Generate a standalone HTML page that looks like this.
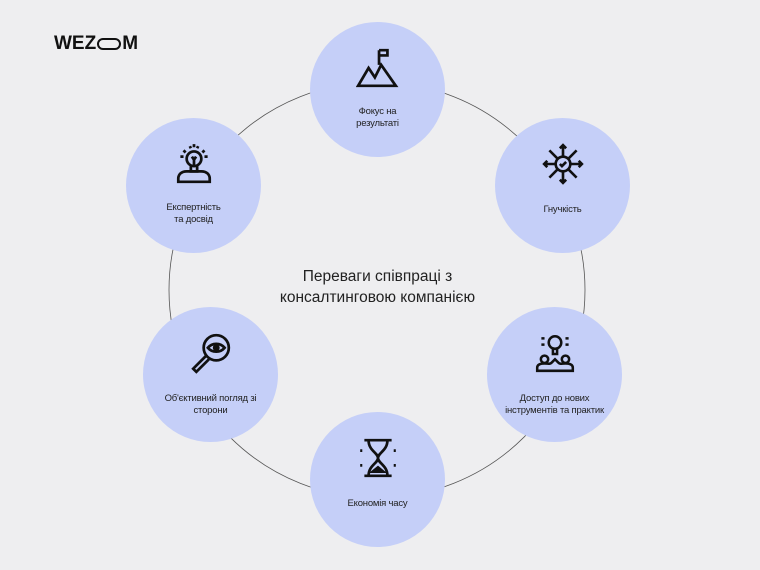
<!DOCTYPE html>
<html><head><meta charset="utf-8"><style>
body{margin:0;width:760px;height:570px;background:#eeeef0;overflow:hidden;font-family:"Liberation Sans",sans-serif;position:relative}
.n{position:absolute;width:135px;height:135px;border-radius:50%;background:#c5cff8}
.t{position:absolute;left:0;width:135px;text-align:center;font-size:9.5px;line-height:12px;color:#222;letter-spacing:-0.2px}
.i{position:absolute;left:46px;top:24px}
</style></head><body>
<div style="position:absolute;left:54px;top:33px;font-weight:bold;font-size:19px;letter-spacing:0px;color:#111">WEZ<span style="display:inline-block;width:24px;height:12px;border:2.6px solid #111;border-radius:7px;vertical-align:-1px;margin:0 1px;box-sizing:border-box"></span>M</div>
<svg style="position:absolute;left:0;top:0" width="760" height="570"><circle cx="377" cy="290" r="208" fill="none" stroke="#555" stroke-width="0.8"/></svg>
<div style="position:absolute;left:250px;top:266px;width:255px;text-align:center;font-size:15.5px;line-height:21px;color:#222">Переваги співпраці з<br>консалтинговою компанією</div>

<div class="n" style="left:310px;top:22px"><svg class="i" width="44" height="44" viewBox="0 0 42 42" fill="none" stroke="#111" stroke-width="2.6"><path d="M22 4v14M22 4h8v5h-8"/><path d="M2 38l10-17 6 9 6-12 14 20z"/></svg><div class="t" style="top:84px">Фокус на<br>результаті</div></div>

<div class="n" style="left:495px;top:118px"><svg class="i" width="44" height="44" viewBox="0 0 42 42" fill="none" stroke="#111" stroke-width="2.5"><circle cx="21" cy="21" r="7"/><path d="M18 21l2 2 4-4M21 14V3M21 28v11M14 21H3M28 21h11M16 16L8 8M26 16l8-8M16 26l-8 8M26 26l8 8M18 6l3-3 3 3M18 36l3 3 3-3M6 18l-3 3 3 3M36 18l3 3-3 3"/></svg><div class="t" style="top:86px">Гнучкість</div></div>

<div class="n" style="left:487px;top:307px"><svg class="i" width="44" height="44" viewBox="0 0 42 42" fill="none" stroke="#111" stroke-width="2.4"><circle cx="21" cy="11" r="6"/><path d="M19 17v5h4v-5M8 7h3M31 7h3M8 13h3M31 13h3"/><circle cx="11" cy="27" r="3.5"/><circle cx="31" cy="27" r="3.5"/><path d="M4 38v-3c0-3 3-4 7-4s5 1 7-1l3-3 3 3c2 2 3 1 7 1s7 1 7 4v3z"/></svg><div class="t" style="top:86px">Доступ до нових<br>інструментів та практик</div></div>

<div class="n" style="left:310px;top:412px"><svg class="i" width="44" height="44" viewBox="0 0 42 42" fill="none" stroke="#111" stroke-width="2.6"><path d="M8 4h26M8 38h26M12 4c0 10 9 12 9 17s-9 7-9 17M30 4c0 10-9 12-9 17s9 7 9 17"/><path d="M16 34l5-4 5 4z" fill="#111"/><path d="M4 14h2M36 14h2M4 28h2M36 28h2"/></svg><div class="t" style="top:86px">Економія часу</div></div>

<div class="n" style="left:143px;top:307px"><svg class="i" width="44" height="44" viewBox="0 0 42 42" fill="none" stroke="#111" stroke-width="2.6"><circle cx="26" cy="16" r="12"/><path d="M16 24L4 36l3 3 12-12"/><path d="M18 16c4-5 12-5 16 0-4 5-12 5-16 0z"/><circle cx="26" cy="16" r="2" fill="#111"/></svg><div class="t" style="top:86px">Об'єктивний погляд зі<br>сторони</div></div>

<div class="n" style="left:126px;top:118px"><svg class="i" width="44" height="44" viewBox="0 0 42 42" fill="none" stroke="#111" stroke-width="2.6"><circle cx="21" cy="16" r="7"/><path d="M18 23v5h6v-5M19 14l2 3 2-3M21 17v6M11 8l2 2M31 8l-2 2M17 4l1 2M25 4l-1 2M21 2v3M8 14h3M31 14h3"/><path d="M6 38v-3c0-4 3-7 8-7h14c5 0 8 3 8 7v3z"/></svg><div class="t" style="top:84px">Експертність<br>та досвід</div></div>
</body></html>
